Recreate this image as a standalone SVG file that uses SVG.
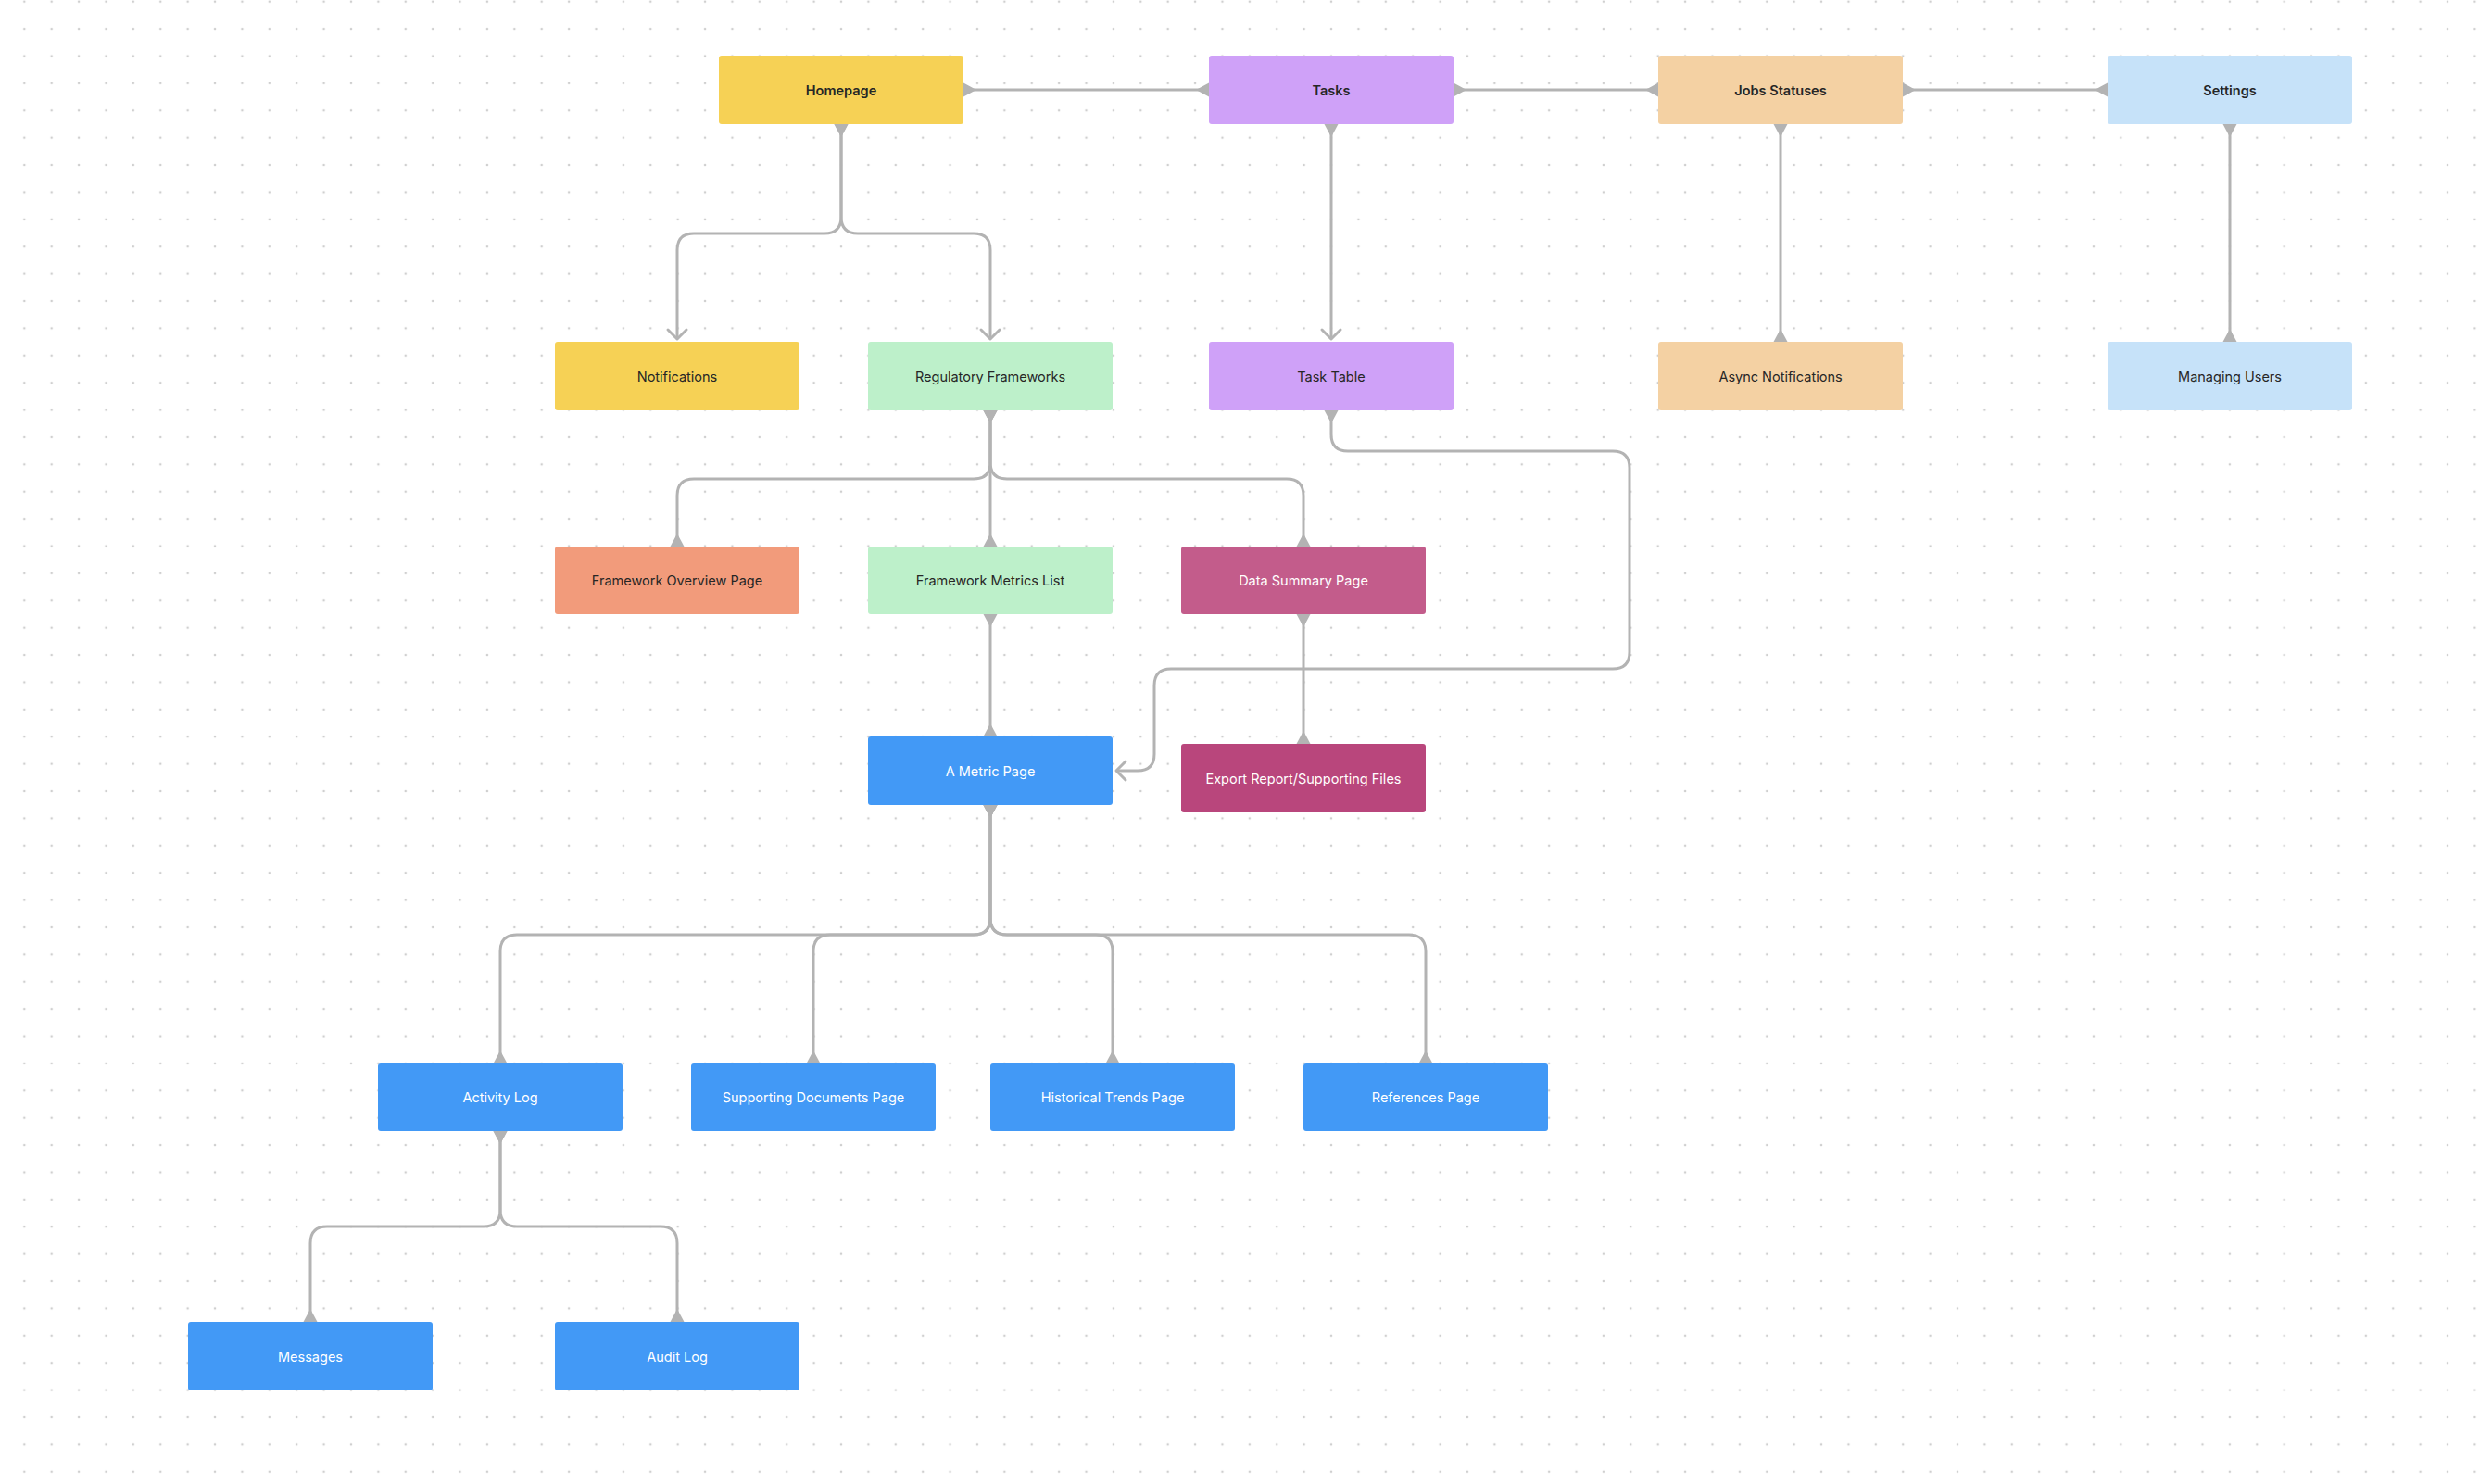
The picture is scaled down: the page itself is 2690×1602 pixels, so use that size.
<svg xmlns="http://www.w3.org/2000/svg" width="2690" height="1602" viewBox="0 0 2690 1602">
<style>
.n rect{rx:3;ry:3}
.n text{font-family:Inter,"Noto Sans","Liberation Sans",sans-serif;font-size:14.5px;text-anchor:middle;dominant-baseline:central;fill:#262626}
.n.t text{font-weight:600}
.n.w text{fill:#ffffff}
.c path{fill:none;stroke:#b3b3b3;stroke-width:3}
.yl{fill:#f6d155}.pu{fill:#cfa1f8}.or{fill:#f4d1a3}.sk{fill:#c6e2f9}.gr{fill:#bdf0ca}.sa{fill:#f29b7b}.ro{fill:#c35c8b}.ma{fill:#b9467c}.bl{fill:#4299f6}
</style>
<defs>
<pattern id="dots" x="26.3" y="1.7" width="29.39" height="29.39" patternUnits="userSpaceOnUse">
<circle cx="0" cy="0" r="1.3" fill="#cfcfcf"/><circle cx="29.39" cy="0" r="1.3" fill="#cfcfcf"/><circle cx="0" cy="29.39" r="1.3" fill="#cfcfcf"/><circle cx="29.39" cy="29.39" r="1.3" fill="#cfcfcf"/>
</pattern>
<marker id="ts" viewBox="-16 -9 32 18" markerWidth="32" markerHeight="18" refX="0" refY="0" orient="auto" markerUnits="userSpaceOnUse" overflow="visible">
<path d="M0,-7.5 L14,0 L0,7.5 Z" fill="#b3b3b3"/>
</marker>
<marker id="te" viewBox="-16 -9 32 18" markerWidth="32" markerHeight="18" refX="0" refY="0" orient="auto" markerUnits="userSpaceOnUse" overflow="visible">
<path d="M0,-7.5 L-14,0 L0,7.5 Z" fill="#b3b3b3"/>
</marker>
<marker id="ch" viewBox="-16 -12 20 24" markerWidth="20" markerHeight="24" refX="0" refY="0" orient="auto" markerUnits="userSpaceOnUse" overflow="visible">
<path d="M-10,-10 L0,0 L-10,10" fill="none" stroke="#b3b3b3" stroke-width="3" stroke-linecap="round" stroke-linejoin="round"/>
</marker>
</defs>
<rect x="0" y="0" width="2690" height="1602" fill="#ffffff"/>
<rect x="0" y="0" width="2690" height="1602" fill="url(#dots)"/>

<g id="connectors" class="c">
<path d="M1040,97 H1305" marker-start="url(#ts)" marker-end="url(#te)"/>
<path d="M1569,97 H1790" marker-start="url(#ts)" marker-end="url(#te)"/>
<path d="M2054,97 H2275" marker-start="url(#ts)" marker-end="url(#te)"/>
<path d="M908,134 V234 Q908,252 890,252 H749 Q731,252 731,270 V366" marker-start="url(#ts)" marker-end="url(#ch)"/>
<path d="M908,134 V234 Q908,252 926,252 H1051 Q1069,252 1069,270 V366" marker-start="url(#ts)" marker-end="url(#ch)"/>
<path d="M1437,134 V366" marker-start="url(#ts)" marker-end="url(#ch)"/>
<path d="M1922,134 V369" marker-start="url(#ts)" marker-end="url(#te)"/>
<path d="M2407,134 V369" marker-start="url(#ts)" marker-end="url(#te)"/>
<path d="M1069,443 V499 Q1069,517 1051,517 H749 Q731,517 731,535 V590" marker-start="url(#ts)" marker-end="url(#te)"/>
<path d="M1069,443 V590" marker-start="url(#ts)" marker-end="url(#te)"/>
<path d="M1069,443 V499 Q1069,517 1087,517 H1389 Q1407,517 1407,535 V590" marker-start="url(#ts)" marker-end="url(#te)"/>
<path d="M1437,443 V469 Q1437,487 1455,487 H1741 Q1759,487 1759,505 V704 Q1759,722 1741,722 H1264 Q1246,722 1246,740 V814 Q1246,832 1228,832 H1205" marker-start="url(#ts)" marker-end="url(#ch)"/>
<path d="M1069,663 V795" marker-start="url(#ts)" marker-end="url(#te)"/>
<path d="M1407,663 V803" marker-start="url(#ts)" marker-end="url(#te)"/>
<path d="M1069,869 V991 Q1069,1009 1051,1009 H558 Q540,1009 540,1027 V1148" marker-start="url(#ts)" marker-end="url(#te)"/>
<path d="M1069,869 V991 Q1069,1009 1051,1009 H896 Q878,1009 878,1027 V1148" marker-start="url(#ts)" marker-end="url(#te)"/>
<path d="M1069,869 V991 Q1069,1009 1087,1009 H1183 Q1201,1009 1201,1027 V1148" marker-start="url(#ts)" marker-end="url(#te)"/>
<path d="M1069,869 V991 Q1069,1009 1087,1009 H1521 Q1539,1009 1539,1027 V1148" marker-start="url(#ts)" marker-end="url(#te)"/>
<path d="M540,1221 V1306 Q540,1324 522,1324 H353 Q335,1324 335,1342 V1427" marker-start="url(#ts)" marker-end="url(#te)"/>
<path d="M540,1221 V1306 Q540,1324 558,1324 H713 Q731,1324 731,1342 V1427" marker-start="url(#ts)" marker-end="url(#te)"/>
</g>

<g id="homepage" class="n t"><rect class="yl" x="776" y="60" width="264" height="74"/><text x="908" y="97">Homepage</text></g>
<g id="tasks" class="n t"><rect class="pu" x="1305" y="60" width="264" height="74"/><text x="1437" y="97">Tasks</text></g>
<g id="jobs-statuses" class="n t"><rect class="or" x="1790" y="60" width="264" height="74"/><text x="1922" y="97">Jobs Statuses</text></g>
<g id="settings" class="n t"><rect class="sk" x="2275" y="60" width="264" height="74"/><text x="2407" y="97">Settings</text></g>

<g id="notifications" class="n"><rect class="yl" x="599" y="369" width="264" height="74"/><text x="731" y="406">Notifications</text></g>
<g id="regulatory-frameworks" class="n"><rect class="gr" x="937" y="369" width="264" height="74"/><text x="1069" y="406">Regulatory Frameworks</text></g>
<g id="task-table" class="n"><rect class="pu" x="1305" y="369" width="264" height="74"/><text x="1437" y="406">Task Table</text></g>
<g id="async-notifications" class="n"><rect class="or" x="1790" y="369" width="264" height="74"/><text x="1922" y="406">Async Notifications</text></g>
<g id="managing-users" class="n"><rect class="sk" x="2275" y="369" width="264" height="74"/><text x="2407" y="406">Managing Users</text></g>

<g id="framework-overview-page" class="n"><rect class="sa" x="599" y="590" width="264" height="73"/><text x="731" y="626.5">Framework Overview Page</text></g>
<g id="framework-metrics-list" class="n"><rect class="gr" x="937" y="590" width="264" height="73"/><text x="1069" y="626.5">Framework Metrics List</text></g>
<g id="data-summary-page" class="n w"><rect class="ro" x="1275" y="590" width="264" height="73"/><text x="1407" y="626.5">Data Summary Page</text></g>

<g id="a-metric-page" class="n w"><rect class="bl" x="937" y="795" width="264" height="74"/><text x="1069" y="832">A Metric Page</text></g>
<g id="export-report" class="n w"><rect class="ma" x="1275" y="803" width="264" height="74"/><text x="1407" y="840">Export Report/Supporting Files</text></g>

<g id="activity-log" class="n w"><rect class="bl" x="408" y="1148" width="264" height="73"/><text x="540" y="1184.5">Activity Log</text></g>
<g id="supporting-documents-page" class="n w"><rect class="bl" x="746" y="1148" width="264" height="73"/><text x="878" y="1184.5">Supporting Documents Page</text></g>
<g id="historical-trends-page" class="n w"><rect class="bl" x="1069" y="1148" width="264" height="73"/><text x="1201" y="1184.5">Historical Trends Page</text></g>
<g id="references-page" class="n w"><rect class="bl" x="1407" y="1148" width="264" height="73"/><text x="1539" y="1184.5">References Page</text></g>

<g id="messages" class="n w"><rect class="bl" x="203" y="1427" width="264" height="74"/><text x="335" y="1464">Messages</text></g>
<g id="audit-log" class="n w"><rect class="bl" x="599" y="1427" width="264" height="74"/><text x="731" y="1464">Audit Log</text></g>
</svg>
